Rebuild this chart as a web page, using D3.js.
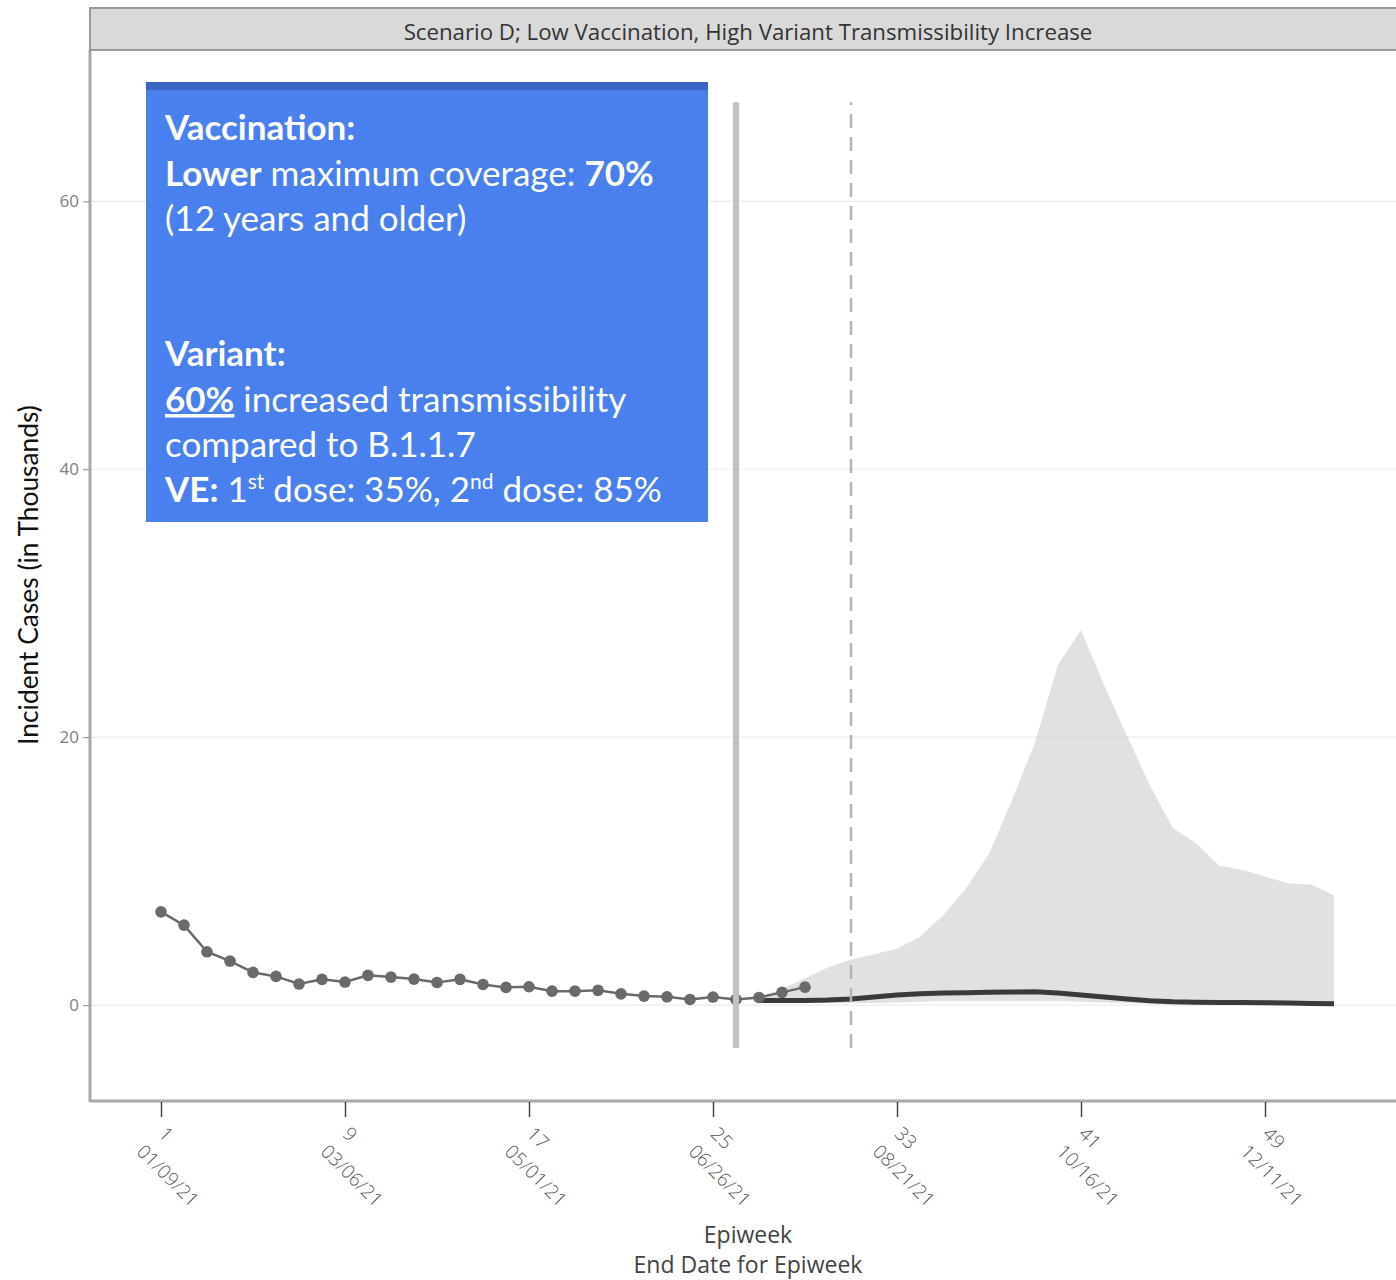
<!DOCTYPE html>
<html>
<head>
<meta charset="utf-8">
<script src="https://cdn.jsdelivr.net/npm/d3@7"></script>
<style>
  body { margin: 0; background: #fff; }
  svg { display: block; }
</style>
</head>
<body>
<div id="chart"></div>
<script>
// observed weekly cases (thousands)
var obsWeeks = [1,2,3,4,5,6,7,8,9,10,11,12,13,14,15,16,17,18,19,20,21,22,23,24,25,26,27,28,29];
var obsCases = [6.96,5.97,3.98,3.28,2.44,2.14,1.57,1.92,1.72,2.22,2.09,1.94,1.69,1.92,1.54,1.32,1.37,1.04,1.04,1.10,0.84,0.67,0.62,0.42,0.60,0.42,0.57,0.95,1.34];

// projection
var projWeeks  = [27,28,29,30,31,32,33,34,35,36,37,38,39,40,41,42,43,44,45,46,47,48,49,50,51,52];
var projMedian = [0.35,0.35,0.35,0.38,0.45,0.6,0.75,0.85,0.9,0.92,0.95,0.98,1.0,0.9,0.75,0.6,0.45,0.32,0.25,0.22,0.2,0.2,0.18,0.15,0.12,0.1];
var projUpper  = [0.6,1.2,2.0,2.8,3.4,3.8,4.2,5.1,6.7,8.7,11.3,15.3,19.6,25.4,28.0,23.9,20.1,16.4,13.2,12.1,10.4,10.1,9.6,9.1,9.0,8.2];
var projLower  = [0.2,0.2,0.15,0.15,0.15,0.15,0.2,0.25,0.3,0.3,0.3,0.3,0.3,0.3,0.25,0.2,0.15,0.1,0.05,0.05,0.05,0.05,0.05,0.05,0.05,0.05];

var xTickWeeks = [1,9,17,25,33,41,49];
var xTickDates = ["01/09/21","03/06/21","05/01/21","06/26/21","08/21/21","10/16/21","12/11/21"];
var yTicks = [0,20,40,60];

var currentWeek = 26;     // solid line
var projStartWeek = 31;   // dashed line
var vlineRange = [-3.2, 67.4];

var title = "Scenario D; Low Vaccination, High Variant Transmissibility Increase";

var W = 1396, H = 1280;
var pLeft = 90, pRight = 1406, pTop = 50, pBottom = 1101;

var svg = d3.select("#chart").append("svg")
    .attr("width", W)
    .attr("height", H);

var x = d3.scaleLinear().domain([-2.087, 55.13]).range([pLeft, pRight]);
var y = d3.scaleLinear().domain([-7.16, 71.3]).range([pBottom, pTop]);

// fit a text node to a target width by changing its font size
function fitWidth(sel, target) {
    var w = sel.node().getComputedTextLength();
    var fs = parseFloat(sel.attr("font-size"));
    sel.attr("font-size", fs * target / w);
}

// grid
svg.append("g")
    .selectAll("line")
    .data(yTicks)
    .enter()
    .append("line")
    .attr("x1", pLeft).attr("x2", pRight)
    .attr("y1", function (d) { return y(d); })
    .attr("y2", function (d) { return y(d); })
    .attr("stroke", "#ebebeb")
    .attr("stroke-width", 1.2);

// ribbon
var proj = projWeeks.map(function (w, i) {
    return { w: w, med: projMedian[i], lo: projLower[i], hi: projUpper[i] };
});

svg.append("path")
    .datum(proj)
    .attr("d", d3.area()
        .x(function (d) { return x(d.w); })
        .y0(function (d) { return y(d.lo); })
        .y1(function (d) { return y(d.hi); }))
    .attr("fill", "#c8c8c8")
    .attr("fill-opacity", 0.55);

// median
svg.append("path")
    .datum(proj)
    .attr("d", d3.line()
        .x(function (d) { return x(d.w); })
        .y(function (d) { return y(d.med); }))
    .attr("fill", "none")
    .attr("stroke", "#3a3a3a")
    .attr("stroke-width", 5);

// observed
var obs = obsWeeks.map(function (w, i) { return { w: w, v: obsCases[i] }; });

svg.append("path")
    .datum(obs)
    .attr("d", d3.line()
        .x(function (d) { return x(d.w); })
        .y(function (d) { return y(d.v); }))
    .attr("fill", "none")
    .attr("stroke", "#6a6a6a")
    .attr("stroke-width", 2.5);

svg.append("g")
    .selectAll("circle")
    .data(obs)
    .enter()
    .append("circle")
    .attr("cx", function (d) { return x(d.w); })
    .attr("cy", function (d) { return y(d.v); })
    .attr("r", 5.8)
    .attr("fill", "#6a6a6a");

// vertical markers
svg.append("line")
    .attr("x1", x(currentWeek)).attr("x2", x(currentWeek))
    .attr("y1", y(vlineRange[0])).attr("y2", y(vlineRange[1]))
    .attr("stroke", "#c0c0c0")
    .attr("stroke-width", 6);

svg.append("line")
    .attr("x1", x(projStartWeek)).attr("x2", x(projStartWeek))
    .attr("y1", y(vlineRange[0])).attr("y2", y(vlineRange[1]))
    .attr("stroke", "#b4b4b4")
    .attr("stroke-width", 2.5)
    .attr("stroke-dasharray", "14,9");

// panel border (left + bottom)
svg.append("line")
    .attr("x1", pLeft).attr("x2", pLeft).attr("y1", pTop).attr("y2", pBottom + 1)
    .attr("stroke", "#a8a8a8").attr("stroke-width", 3);
svg.append("line")
    .attr("x1", pLeft).attr("x2", pRight).attr("y1", pBottom).attr("y2", pBottom)
    .attr("stroke", "#a8a8a8").attr("stroke-width", 3);

// strip
svg.append("rect")
    .attr("x", pLeft).attr("y", 8)
    .attr("width", pRight - pLeft).attr("height", pTop - 8)
    .attr("fill", "#d9d9d9")
    .attr("stroke", "#9a9a9a")
    .attr("stroke-width", 2);

var st = svg.append("text")
    .attr("x", (pLeft + pRight) / 2)
    .attr("y", 40)
    .attr("text-anchor", "middle")
    .attr("font-family", "Open Sans, sans-serif")
    .attr("font-size", 20)
    .attr("fill", "#333")
    .text(title);
fitWidth(st, 689);

// y axis
var yAxis = d3.axisLeft(y).tickValues(yTicks).tickSize(6).tickPadding(4);
var gy = svg.append("g")
    .attr("transform", "translate(" + (pLeft - 1) + ",0)")
    .call(yAxis);
gy.select(".domain").remove();
gy.selectAll(".tick line").attr("stroke", "#888");
gy.selectAll(".tick text")
    .attr("font-family", "Open Sans, sans-serif")
    .attr("font-size", 17)
    .attr("fill", "#808080");

// x axis
var xAxis = d3.axisBottom(x).tickValues(xTickWeeks).tickSize(15).tickFormat("");
var gx = svg.append("g")
    .attr("transform", "translate(0," + (pBottom + 1) + ")")
    .call(xAxis);
gx.select(".domain").remove();
gx.selectAll(".tick line").attr("stroke", "#444").attr("stroke-width", 1.5);

gx.selectAll(".tick").each(function (d) {
    var i = xTickWeeks.indexOf(d);
    var t = d3.select(this).append("text")
        .attr("transform", "translate(-4,33) rotate(45)")
        .attr("text-anchor", "start")
        .attr("font-family", "Open Sans, sans-serif")
        .attr("font-weight", 300)
        .attr("font-size", 19)
        .attr("fill", "#555");
    t.append("tspan").attr("x", 0).attr("dy", 0).text(d);
    t.append("tspan").attr("x", -3).attr("dy", 28).text(xTickDates[i]);
});

// axis titles
var yt = svg.append("text")
    .attr("transform", "translate(38," + ((405 + 745) / 2) + ") rotate(-90)")
    .attr("text-anchor", "middle")
    .attr("font-family", "Liberation Sans Narrow, Lato, sans-serif")
    .attr("font-size", 22)
    .attr("fill", "#111")
    .text("Incident Cases (in Thousands)");
fitWidth(yt, 340);

svg.append("text")
    .attr("x", (pLeft + pRight) / 2)
    .attr("y", 1243)
    .attr("text-anchor", "middle")
    .attr("font-family", "Open Sans, sans-serif")
    .attr("font-size", 23)
    .attr("fill", "#444")
    .text("Epiweek");

svg.append("text")
    .attr("x", (pLeft + pRight) / 2)
    .attr("y", 1273)
    .attr("text-anchor", "middle")
    .attr("font-family", "Open Sans, sans-serif")
    .attr("font-size", 23)
    .attr("fill", "#444")
    .text("End Date for Epiweek");

// info box
var box = svg.append("g");
box.append("rect")
    .attr("x", 146).attr("y", 82).attr("width", 562).attr("height", 440)
    .attr("fill", "#4a80ee");
box.append("rect")
    .attr("x", 146).attr("y", 82).attr("width", 562).attr("height", 8)
    .attr("fill", "#3b65c4");

var lines = [
    { y: 140, parts: [{ t: "Vaccination:", b: true }] },
    { y: 186, parts: [{ t: "Lower", b: true }, { t: " maximum coverage: " }, { t: "70%", b: true }] },
    { y: 231, parts: [{ t: "(12 years and older)" }] },
    { y: 366, parts: [{ t: "Variant:", b: true }] },
    { y: 412, parts: [{ t: "60%", b: true, u: true }, { t: " increased transmissibility" }] },
    { y: 457, parts: [{ t: "compared to B.1.1.7" }] },
    { y: 502, parts: [{ t: "VE:", b: true }, { t: " 1" }, { t: "st", sup: true }, { t: " dose: 35%, 2" }, { t: "nd", sup: true }, { t: " dose: 85%" }] }
];

var fs = 35;
lines.forEach(function (ln) {
    var t = box.append("text")
        .attr("x", 165).attr("y", ln.y)
        .attr("font-family", "Lato, sans-serif")
        .attr("font-size", fs)
        .attr("fill", "#fff");
    var raised = false;
    ln.parts.forEach(function (p) {
        var s = t.append("tspan").text(p.t);
        if (p.b) s.attr("font-weight", 700);
        if (p.u) s.attr("text-decoration", "underline");
        if (p.sup) { s.attr("font-size", fs * 0.6).attr("dy", -13); raised = true; }
        else if (raised) { s.attr("dy", 13); raised = false; }
    });
});
</script>
</body>
</html>
